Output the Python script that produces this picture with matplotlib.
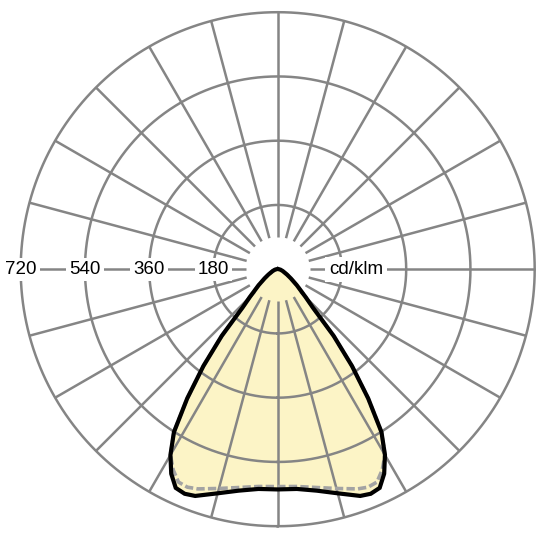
import numpy as np
import matplotlib
matplotlib.use('Agg')
import matplotlib.pyplot as plt

# ---- data ----
gamma_deg = [0, 5, 10, 15, 20, 22.5, 25, 27.5, 30, 32.5, 35, 37.5, 40, 42.5, 45, 50, 55, 60, 70, 80, 90]
c0_c180 = [617, 618, 630, 650, 676, 681, 676, 646, 601, 541, 442, 342, 244, 146, 111, 70, 45, 30, 15, 8, 3]
c90_c270 = [609, 611, 621, 636, 655, 661, 658, 634, 601, 541, 442, 342, 244, 146, 111, 70, 45, 30, 15, 8, 3]
ring_values = [180, 360, 540, 720]
ring_labels = ['180', '360', '540', '720']
unit_label = 'cd/klm'
spoke_step_deg = 15
spoke_start = 90
r_max = 720

plt.rcParams['font.family'] = ['Liberation Sans', 'DejaVu Sans']

fig = plt.figure(figsize=(5.4, 5.4), dpi=100)
cx, cy, rad = 277.7 / 540, 1 - 269.2 / 540, 257 / 540
ax = fig.add_axes([cx - rad, cy - rad, 2 * rad, 2 * rad], projection='polar')
ax.set_theta_zero_location('S')
ax.set_ylim(0, r_max)
ax.set_axis_off()

grid_col = '#858585'
fill_col = '#FCF4C6'

def mirror(g, v):
    g = np.asarray(g, float)
    v = np.asarray(v, float)
    th = np.deg2rad(np.concatenate([-g[::-1], g[1:]]))
    rr = np.concatenate([v[::-1], v[1:]])
    return th, rr

th0, r0 = mirror(gamma_deg, c0_c180)
th90, r90 = mirror(gamma_deg, c90_c270)

ax.fill(th0, r0, color=fill_col, zorder=1, lw=0)

full = np.linspace(0, 2 * np.pi, 721)
for rv in ring_values:
    ax.plot(full, np.full_like(full, rv), color=grid_col, lw=1.8, zorder=2, clip_on=False)
for a in range(0, 360, spoke_step_deg):
    t = np.deg2rad(a)
    ax.plot([t, t], [spoke_start, r_max], color=grid_col, lw=1.8, zorder=2, clip_on=False,
            solid_capstyle='butt')

ax.plot(th90, r90, color='#A3A3A3', lw=2.6, ls=(0, (2.3, 0.9)), zorder=3, clip_on=False)
ax.plot(th0, r0, color='black', lw=3.0, zorder=4, clip_on=False, solid_joinstyle='miter')

for rv, lab in zip(ring_values, ring_labels):
    ax.text(-np.pi / 2, rv, lab, ha='center', va='center', fontsize=13.5, zorder=5,
            bbox=dict(boxstyle='square,pad=0.17', fc='white', ec='none'))
ax.text(np.pi / 2, 220, unit_label, ha='center', va='center', fontsize=13.5, zorder=5,
        bbox=dict(boxstyle='square,pad=0.22', fc='white', ec='none'))

fig.savefig('out.png', dpi=100, facecolor='white')
